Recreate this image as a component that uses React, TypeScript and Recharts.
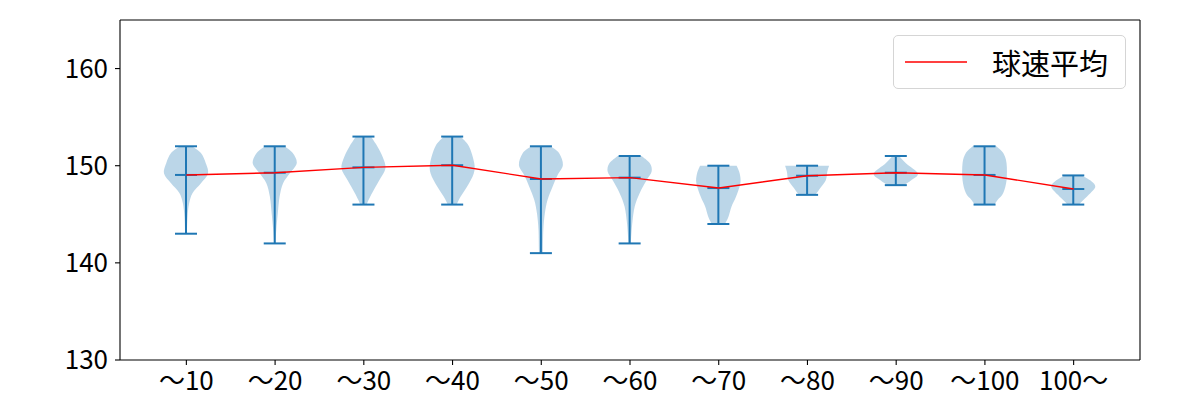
import React from 'react';
import { ComposedChart, Bar, Line, XAxis, YAxis, Legend } from 'recharts';

const categories = ['〜10', '〜20', '〜30', '〜40', '〜50', '〜60', '〜70', '〜80', '〜90', '〜100', '100〜'];
const minVals = [143, 142, 146, 146, 141, 142, 144, 147, 148, 146, 146];
const maxVals = [152, 152, 153, 153, 152, 151, 150, 150, 151, 152, 149];
const meanVals = [149.05, 149.28, 149.83, 150.05, 148.63, 148.77, 147.7, 148.97, 149.28, 149.05, 147.6];
const yTicks = [130, 140, 150, 160];

// violin profiles: [value, relative half-width]
const violinProfiles: [number, number][][] = [
  [[152, 0.28], [151.3, 0.68], [150.25, 0.9], [149.2, 1.0], [148.2, 0.68], [147.2, 0.3], [146.1, 0.14], [144.75, 0.07], [143, 0.04]],
  [[152, 0.45], [151.3, 0.82], [150.25, 1.0], [149.2, 0.68], [148.2, 0.38], [146.8, 0.22], [145.1, 0.14], [143.4, 0.07], [142, 0.03]],
  [[153, 0.34], [151.96, 0.64], [150.93, 0.87], [149.73, 1.0], [148.5, 0.72], [147.3, 0.42], [146.47, 0.23], [146, 0.15]],
  [[153, 0.38], [152, 0.76], [150.3, 1.0], [149.2, 0.98], [147.85, 0.68], [146.8, 0.38], [146, 0.2]],
  [[152, 0.45], [151.28, 0.83], [150.07, 1.0], [149.04, 0.76], [147.84, 0.53], [146.47, 0.3], [145.1, 0.18], [143.4, 0.11], [141.3, 0.09], [141, 0.08]],
  [[151, 0.54], [150.25, 0.92], [149.4, 1.0], [148.5, 0.77], [147.2, 0.46], [145.8, 0.23], [144.07, 0.12], [142, 0.05]],
  [[150, 0.83], [149.2, 0.97], [148.2, 1.0], [146.8, 0.8], [145.8, 0.6], [144.75, 0.46], [144, 0.3]],
  [[150, 1.0], [149.4, 0.92], [148.5, 0.85], [147.7, 0.6], [147, 0.38]],
  [[151, 0.15], [150.25, 0.46], [149.2, 1.0], [148.5, 0.7], [148, 0.38]],
  [[152, 0.54], [151.3, 0.85], [150.25, 1.0], [148.5, 1.0], [147.2, 0.85], [146.5, 0.6], [146, 0.45]],
  [[149, 0.38], [148.5, 0.77], [147.84, 1.0], [147, 0.7], [146.3, 0.38], [146, 0.25]],
];

const data = categories.map((cat, i) => ({
  cat,
  idx: i,
  range: [minVals[i], maxVals[i]],
  min: minVals[i],
  max: maxVals[i],
  mean: meanVals[i],
}));

const FONT = '"Noto Sans CJK JP", "Noto Sans", sans-serif';
const BLUE = '#1f77b4';

type Pt = [number, number];

function smoothPath(pts: Pt[]): string {
  let d = '';
  for (let i = 0; i < pts.length - 1; i++) {
    const p0 = pts[Math.max(0, i - 1)];
    const p1 = pts[i];
    const p2 = pts[i + 1];
    const p3 = pts[Math.min(pts.length - 1, i + 2)];
    const c1x = p1[0] + (p2[0] - p0[0]) / 6;
    const c1y = p1[1] + (p2[1] - p0[1]) / 6;
    const c2x = p2[0] - (p3[0] - p1[0]) / 6;
    const c2y = p2[1] - (p3[1] - p1[1]) / 6;
    d += ` C ${c1x} ${c1y} ${c2x} ${c2y} ${p2[0]} ${p2[1]}`;
  }
  return d;
}

const ViolinShape = (props: any) => {
  const { x, y, width, height, payload } = props;
  if (!payload) return null;
  const top = Math.min(y, y + height);
  const bot = Math.max(y, y + height);
  const lo = payload.min;
  const hi = payload.max;
  const toY = (v: number) => top + ((hi - v) / (hi - lo)) * (bot - top);
  const cx = x + width / 2;
  const hwMax = width / 2;
  const prof = violinProfiles[payload.idx];
  const right: Pt[] = prof.map(([v, w]) => [cx + w * hwMax, toY(v)]);
  const left: Pt[] = prof.map(([v, w]) => [cx - w * hwMax, toY(v)]).reverse() as Pt[];
  let d = `M ${left[left.length - 1][0]} ${left[left.length - 1][1]} L ${right[0][0]} ${right[0][1]}`;
  d += smoothPath(right);
  d += ` L ${left[0][0]} ${left[0][1]}`;
  d += smoothPath(left);
  d += ' Z';
  const cap = width / 4;
  const my = toY(payload.mean);
  return (
    <g>
      <path d={d} fill={BLUE} fillOpacity={0.3} stroke="none" />
      <line x1={cx} x2={cx} y1={top} y2={bot} stroke={BLUE} strokeWidth={2} />
      <line x1={cx - cap} x2={cx + cap} y1={top} y2={top} stroke={BLUE} strokeWidth={2} />
      <line x1={cx - cap} x2={cx + cap} y1={bot} y2={bot} stroke={BLUE} strokeWidth={2} />
      <line x1={cx - cap} x2={cx + cap} y1={my} y2={my} stroke={BLUE} strokeWidth={2} />
    </g>
  );
};

const LegendBox = () => (
  <div
    style={{
      boxSizing: 'border-box',
      width: 233,
      height: 54,
      border: '1px solid #d5d5d5',
      borderRadius: 5,
      background: 'rgba(255,255,255,0.8)',
      display: 'flex',
      alignItems: 'center',
      fontFamily: FONT,
      fontSize: 29,
      color: '#000',
      paddingLeft: 11,
    }}
  >
    <svg width={62} height={6} style={{ display: 'block' }}>
      <line x1={0} x2={62} y1={3} y2={3} stroke="red" strokeWidth={1.4} />
    </svg>
    <span style={{ marginLeft: 25, lineHeight: 1 }}>球速平均</span>
  </div>
);

export default function App() {
  return (
    <div style={{ position: 'absolute', left: 0, top: 0, width: 1200, height: 400, background: '#fff' }}>
      <ComposedChart width={1200} height={400} data={data} margin={{ top: 19, right: 59, left: 0, bottom: 0 }}>
        <XAxis
          dataKey="cat"
          height={40}
          padding={{ left: 22, right: 22 }}
          axisLine={{ stroke: '#000', strokeWidth: 1.1 }}
          tickLine={{ stroke: '#000', strokeWidth: 1.1 }}
          tickSize={5}
          tickMargin={7}
          interval={0}
          tick={{ fontSize: 26, fill: '#000', fontFamily: FONT }}
        />
        <XAxis
          xAxisId="top"
          orientation="top"
          dataKey="cat"
          height={1}
          tick={false}
          tickLine={false}
          axisLine={{ stroke: '#000', strokeWidth: 1.1 }}
        />
        <YAxis
          type="number"
          domain={[130, 165]}
          ticks={yTicks}
          width={120}
          allowDataOverflow
          axisLine={{ stroke: '#000', strokeWidth: 1.1 }}
          tickLine={{ stroke: '#000', strokeWidth: 1.1 }}
          tickSize={5}
          tickMargin={7}
          tick={{ fontSize: 26, fill: '#000', fontFamily: FONT }}
        />
        <YAxis
          yAxisId="right"
          orientation="right"
          type="number"
          domain={[130, 165]}
          width={1}
          tick={false}
          tickLine={false}
          axisLine={{ stroke: '#000', strokeWidth: 1.1 }}
        />
        <Bar dataKey="range" barSize={44} shape={ViolinShape} isAnimationActive={false} />
        <Line
          dataKey="mean"
          stroke="red"
          strokeWidth={1.4}
          dot={false}
          activeDot={false}
          isAnimationActive={false}
        />
        <Legend
          layout="horizontal"
          align="center"
          verticalAlign="middle"
          wrapperStyle={{ left: 893, top: 35, width: 233, height: 54 }}
          content={() => <LegendBox />}
        />
      </ComposedChart>
    </div>
  );
}
